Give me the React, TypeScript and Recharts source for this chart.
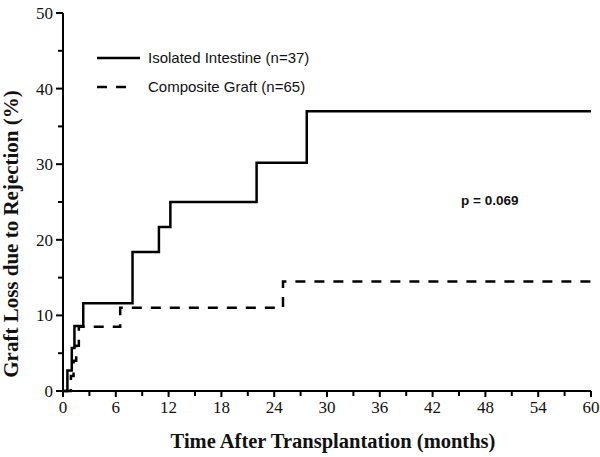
import React from 'react'
import {
  LineChart, Line, XAxis, YAxis, ReferenceDot, Label,
} from 'recharts'

// Kaplan-Meier style step data (months, % graft loss)
const isolatedMonths = [0, 0.5, 1.0, 1.3, 2.3, 7.9, 10.9, 12.2, 22.0, 27.7, 60]
const isolatedLoss = [0, 2.7, 5.7, 8.6, 11.6, 18.4, 21.7, 25.0, 30.2, 37.0, 37.0]

const compositeMonths = [0, 0.6, 0.9, 1.2, 1.5, 1.8, 6.5, 25.0, 60]
const compositeLoss = [0, 0, 2, 4, 6, 8.5, 11.0, 14.5, 14.5]

const xTicks = [0, 3, 6, 9, 12, 15, 18, 21, 24, 27, 30, 33, 36, 39, 42, 45, 48, 51, 54, 57, 60]
const yTicks = [0, 5, 10, 15, 20, 25, 30, 35, 40, 45, 50]

const seriesNames = ['Isolated Intestine (n=37)', 'Composite Graft (n=65)']

const toPoints = (xs: number[], ys: number[]) => xs.map((m, i) => ({ month: m, loss: ys[i] }))

const isolatedData = toPoints(isolatedMonths, isolatedLoss)
const compositeData = toPoints(compositeMonths, compositeLoss)

const serif = '"Liberation Serif", "Times New Roman", serif'
const sans = '"Liberation Sans", Arial, sans-serif'

const YTick = (props: any) => {
  const { x, y, payload } = props
  const major = payload.value % 10 === 0
  return (
    <g>
      <line x1={x} x2={x - (major ? 7 : 5)} y1={y} y2={y} stroke="#000" strokeWidth={2} />
      {major && (
        <text x={x - 10} y={y} dy={6} textAnchor="end" fontFamily={serif} fontSize={17} fill="#111">
          {payload.value}
        </text>
      )}
    </g>
  )
}

const XTick = (props: any) => {
  const { x, y, payload } = props
  const major = payload.value % 6 === 0
  return (
    <g>
      <line x1={x} x2={x} y1={y} y2={y + (major ? 6 : 5)} stroke="#000" strokeWidth={2} />
      {major && (
        <text x={x} y={y + 22} textAnchor="middle" fontFamily={serif} fontSize={17} fill="#111">
          {payload.value}
        </text>
      )}
    </g>
  )
}

// y title sits a bit below the axis middle in the original
const YTitle = (props: any) => {
  const vb = props.viewBox || { x: 0, y: 13, width: 63, height: 378 }
  const cx = vb.x + 11
  const cy = vb.y + vb.height / 2 + 32
  return (
    <text
      x={cx}
      y={cy}
      transform={`rotate(-90, ${cx}, ${cy})`}
      textAnchor="middle"
      dominantBaseline="central"
      fontFamily={serif}
      fontWeight="bold"
      fontSize={21}
      fill="#111"
    >
      Graft Loss due to Rejection (%)
    </text>
  )
}

// legend drawn by hand, sits over the top-left of the plot
const LegendBox = () => (
  <svg width={240} height={55} style={{ position: 'absolute', left: 95, top: 45 }}>
    <line x1={2} x2={45} y1={13} y2={13} stroke="#000" strokeWidth={2.5} />
    <text x={53} y={18} fontFamily={sans} fontSize={15} fill="#111">{seriesNames[0]}</text>
    <line x1={2} x2={31} y1={42} y2={42} stroke="#000" strokeWidth={2.5} strokeDasharray="10 9" />
    <text x={53} y={47} fontFamily={sans} fontSize={15} fill="#111">{seriesNames[1]}</text>
  </svg>
)

const App = () => {
  return (
    <div style={{ position: 'absolute', left: 0, top: 0, width: 600, height: 457, background: '#fff' }}>
      <LineChart
        width={600}
        height={457}
        margin={{ top: 13, right: 9, left: 0, bottom: 0 }}
      >
        <XAxis
          dataKey="month"
          type="number"
          domain={[0, 60]}
          ticks={xTicks}
          interval={0}
          tickSize={0}
          tickMargin={0}
          tick={<XTick />}
          stroke="#000"
          strokeWidth={2}
          height={66}
          allowDuplicatedCategory={false}
        >
          <Label
            value="Time After Transplantation (months)"
            position="insideBottom"
            offset={9}
            dx={6}
            style={{ fontFamily: serif, fontWeight: 'bold', fontSize: 20.5, fill: '#111' }}
          />
        </XAxis>
        <YAxis
          dataKey="loss"
          type="number"
          domain={[0, 50]}
          ticks={yTicks}
          interval={0}
          tickSize={0}
          tickMargin={0}
          tick={<YTick />}
          stroke="#000"
          strokeWidth={2}
          width={63}
        >
          <Label content={<YTitle />} />
        </YAxis>
        <Line
          data={isolatedData}
          dataKey="loss"
          name={seriesNames[0]}
          type="stepAfter"
          stroke="#000"
          strokeWidth={2.5}
          dot={false}
          isAnimationActive={false}
        />
        <Line
          data={compositeData}
          dataKey="loss"
          name={seriesNames[1]}
          type="stepAfter"
          stroke="#000"
          strokeWidth={2.5}
          strokeDasharray="10 9"
          dot={false}
          isAnimationActive={false}
        />
        <ReferenceDot x={48.5} y={25.2} r={0} stroke="none" fill="none">
          <Label
            value="p = 0.069"
            position="center"
            style={{ fontFamily: sans, fontWeight: 'bold', fontSize: 13.5, fill: '#111' }}
          />
        </ReferenceDot>
      </LineChart>
      <LegendBox />
    </div>
  )
}

export default App
